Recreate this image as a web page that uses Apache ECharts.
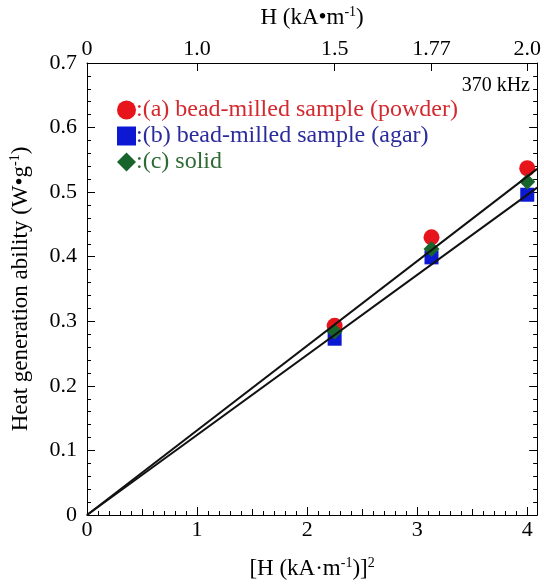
<!DOCTYPE html>
<html>
<head>
<meta charset="utf-8">
<script src="https://cdn.jsdelivr.net/npm/echarts@6/dist/echarts.min.js"></script>
<style>html,body{margin:0;padding:0;background:#fff}#c{width:544px;height:585px}</style>
</head>
<body>
<div id="c"></div>
<script>
// ---- data ----
const seriesNames = [':(a) bead-milled sample (powder)', ':(b) bead-milled sample (agar)', ':(c) solid'];
const xValues = [2.25, 3.13, 4];
const powder = [0.293, 0.430, 0.537];
const agar = [0.273, 0.399, 0.496];
const solid = [0.284, 0.412, 0.516];
const fitUpper = [[0, 0], [4.09, 0.536]];
const fitLower = [[0, 0], [4.09, 0.507]];
const topTickPositions = [0, 1, 2.25, 3.13, 4];
const topTickLabels = ['0', '1.0', '1.5', '1.77', '2.0'];
const yTicks = [0, 0.1, 0.2, 0.3, 0.4, 0.5, 0.6, 0.7];

const FONT = '"Liberation Serif", "DejaVu Serif", serif';
const XMAX = 4.09;
const TICK_FS = 22;
const NAME_FS = 23;
const pair = (ys) => xValues.map((x, i) => [x, ys[i]]);
const lineStyle = { color: '#000', width: 1 };
const supRich = { sup: { fontSize: 14, fontFamily: FONT, padding: [0, 0, 11, 0], color: '#000' } };

const chart = echarts.init(document.getElementById('c'), null, { renderer: 'canvas' });
chart.setOption({
  animation: false,
  backgroundColor: '#fff',
  textStyle: { fontFamily: FONT },
  grid: { left: 87, right: 3, top: 63, bottom: 68, containLabel: false },
  legend: {
    orient: 'vertical', left: 112, top: 93, itemGap: 2, itemWidth: 19, itemHeight: 19,
    textStyle: { fontFamily: FONT, fontSize: 24, padding: [0, 0, 0, -5] },
    data: [
      { name: seriesNames[0], icon: 'circle', textStyle: { color: '#d42a2f' } },
      { name: seriesNames[1], icon: 'rect', textStyle: { color: '#2b2b9c' } },
      { name: seriesNames[2], icon: 'diamond', textStyle: { color: '#2f6a35' } }
    ]
  },
  graphic: [{
    type: 'text', right: 14, top: 76,
    style: { text: '370 kHz', font: '20px ' + FONT, fill: '#000' }
  }],
  xAxis: [
    { // bottom: labels + integer ticks
      type: 'value', position: 'bottom', min: 0, max: XMAX, interval: 1,
      name: '[H (kA·m{sup|-1})]{sup|2}', nameLocation: 'middle', nameGap: 41,
      nameTextStyle: { fontFamily: FONT, fontSize: NAME_FS, color: '#000', rich: supRich },
      axisLine: { show: true, onZero: false, lineStyle },
      axisTick: { show: true, inside: true, length: 8, lineStyle },
      minorTick: { show: true, splitNumber: 10, length: 4, lineStyle },
      axisLabel: { fontFamily: FONT, fontSize: TICK_FS, color: '#000', margin: 4,
        formatter: v => (Math.abs(v - Math.round(v)) < 1e-6 ? String(Math.round(v)) : '') },
      splitLine: { show: false }
    },
    { // bottom half ticks
      type: 'value', position: 'bottom', min: 0, max: XMAX, interval: 0.5,
      axisLine: { show: false }, axisLabel: { show: false }, splitLine: { show: false },
      axisTick: { show: true, inside: true, length: 6, lineStyle }
    },
    { // top H axis
      type: 'value', position: 'top', min: 0, max: XMAX,
      name: 'H (kA•m{sup|-1})', nameLocation: 'middle', nameGap: 33,
      nameTextStyle: { fontFamily: FONT, fontSize: NAME_FS, color: '#000', rich: supRich },
      axisLine: { show: true, onZero: false, lineStyle },
      axisTick: { show: true, inside: true, length: 8, lineStyle, customValues: topTickPositions },
      axisLabel: { fontFamily: FONT, fontSize: TICK_FS, color: '#000', margin: 3,
        customValues: topTickPositions,
        formatter: v => { const i = topTickPositions.findIndex(p => Math.abs(p - v) < 1e-6); return i >= 0 ? topTickLabels[i] : ''; } },
      splitLine: { show: false }
    }
  ],
  yAxis: [
    {
      type: 'value', position: 'left', min: 0, max: 0.7, interval: 0.1,
      name: 'Heat generation ability (W•g{sup|-1})', nameLocation: 'middle', nameGap: 54,
      nameTextStyle: { fontFamily: FONT, fontSize: NAME_FS, color: '#000', rich: supRich },
      axisLine: { show: true, onZero: false, lineStyle },
      axisTick: { show: true, inside: true, length: 8, lineStyle },
      minorTick: { show: true, splitNumber: 5, length: 4, lineStyle },
      axisLabel: { fontFamily: FONT, fontSize: TICK_FS, color: '#000', margin: 10,
        formatter: v => yTicks.includes(Math.round(v * 10) / 10) ? (v === 0 ? '0' : v.toFixed(1)) : '' },
      splitLine: { show: false }
    },
    {
      type: 'value', position: 'right', min: 0, max: 0.7, interval: 0.1,
      axisLine: { show: true, onZero: false, lineStyle },
      axisTick: { show: true, inside: true, length: 8, lineStyle },
      minorTick: { show: true, splitNumber: 5, length: 4, lineStyle },
      axisLabel: { show: false }, splitLine: { show: false }
    }
  ],
  series: [
    { name: seriesNames[0], type: 'scatter', data: pair(powder), symbol: 'circle', symbolSize: 16,
      itemStyle: { color: '#e8141c', opacity: 1 }, z: 2 },
    { name: seriesNames[1], type: 'scatter', data: pair(agar), symbol: 'rect', symbolSize: 14,
      itemStyle: { color: '#0c18d2', opacity: 1 }, z: 2 },
    { name: seriesNames[2], type: 'scatter', data: pair(solid), symbol: 'diamond', symbolSize: 16,
      itemStyle: { color: '#17652a', opacity: 1 }, z: 3 },
    { type: 'line', data: fitUpper, showSymbol: false, symbol: 'none', lineStyle: { color: '#111', width: 2 }, z: 5, silent: true },
    { type: 'line', data: fitLower, showSymbol: false, symbol: 'none', lineStyle: { color: '#111', width: 2 }, z: 5, silent: true }
  ]
});
</script>
</body>
</html>
